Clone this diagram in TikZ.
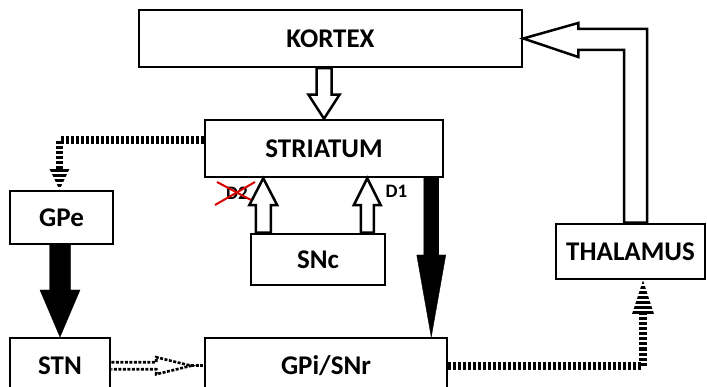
\documentclass[tikz,border=0pt]{standalone}
\usepackage{fontspec}
\setmainfont{Carlito}
\usetikzlibrary{calc}

% vertical block arrow: [style]{from}{to}{shaft half}{head half}{head length}
\newcommand\vblock[6][]{%
  \draw[#1] let \p1=(#2), \p2=(#3), \n1={sign(\y2-\y1)*#6} in
    (\x2-#4pt,\y1) -- (\x2-#4pt,\y2-\n1) -- (\x2-#5pt,\y2-\n1)
    -- (\x2,\y2) -- (\x2+#5pt,\y2-\n1) -- (\x2+#4pt,\y2-\n1)
    -- (\x2+#4pt,\y1) -- cycle;}

\begin{document}
\begin{tikzpicture}[
  x=1pt, y=-1pt,
  box/.style     = {draw, line width=2.5pt, fill=white, inner sep=0pt,
                    font=\fontsize{27}{32}\selectfont\bfseries},
  lbl/.style     = {inner sep=0pt, font=\fontsize{19}{22}\selectfont\bfseries},
  hollow/.style  = {draw, line width=2.5pt, fill=white, line join=miter},
  solidar/.style = {fill=black},
  dotline/.style = {line width=7.5pt, dash pattern=on 3pt off 2pt},
  dashout/.style = {line width=2.6pt, dash pattern=on 3pt off 1.5pt},
  cross/.style   = {draw=red!85!black, line width=2pt},
]
\useasboundingbox (0,0) rectangle (707,387);
\clip (0,0) rectangle (707,387);

% ----------------------------- boxes --------------------------------------
\node[box, minimum width=383, minimum height=57] (kortex) at (330.5,38.5) {KORTEX};
\node[box, minimum width=238, minimum height=57] (striatum) at (324,148.5) {STRIATUM};
\node[box, minimum width=134, minimum height=51] (snc) at (318,259.5) {SNc};
\node[box, minimum width=103, minimum height=53] (gpe) at (61.5,217.5) {GPe};
\node[box, minimum width=100, minimum height=55, anchor=north] (stn) at (60,337) {STN};
\node[box, minimum width=242, minimum height=55, anchor=north] (gpi) at (326,337) {GPi/SNr};
\node[box, minimum width=149, minimum height=55] (thalamus) at (630.5,251.5) {THALAMUS};

% ----------------------------- hollow arrows ------------------------------
\vblock[hollow]{kortex.south -| striatum.north}{striatum.north}{7.5}{15.5}{24}
\vblock[hollow]{$(snc.north west)+(13.5,0)$}{$(striatum.south west)+(59.5,0)$}{7.5}{14}{27}
\vblock[hollow]{$(snc.north east)+(-16.5,0)$}{$(striatum.south west)+(163.5,0)$}{6.5}{13.5}{27}
\draw[hollow] ($(thalamus.north)+(16.5,0)$) |- ($(kortex.east)+(55,-9.5)$)
  -- ++(0,-6) -- (kortex.east) -- ++(55,18.5) -- ++(0,-7)
  -| ($(thalamus.north)+(-6.5,0)$) -- cycle;

% ----------------------------- solid arrows -------------------------------
\vblock[solidar]{gpe.south}{stn.north}{10.5}{20}{47}
\vblock[solidar]{$(striatum.south east)+(-13,0)$}{$(gpi.north east)+(-17,0)$}{7.5}{14.5}{82}

% ----------------------------- dotted arrows ------------------------------
\coordinate (gpetip) at ($(gpe.north)+(-2,0)$);
\coordinate (gpebase) at ($(gpe.north)+(-2,-21)$);
\draw[dotline] ($(striatum.west)+(0,-8.5)$) -| (gpebase);
\begin{scope}
  \clip ($(gpebase)+(-10,0)$) -- ($(gpebase)+(10,0)$) -- (gpetip) -- cycle;
  \draw[dotline, line width=22pt] (gpebase) -- (gpetip);
\end{scope}

\coordinate (thtip) at ($(thalamus.south)+(12.5,0)$);
\coordinate (thbase) at ($(thalamus.south)+(12.5,34)$);
\draw[dotline, line width=8pt] (gpi.east) -| (thbase);
\begin{scope}
  \clip ($(thbase)+(-11,0)$) -- ($(thbase)+(11,0)$) -- (thtip) -- cycle;
  \draw[dotline, line width=24pt] (thbase) -- (thtip);
\end{scope}

\draw[dashout] ($(stn.east)+(0,-3.5)$) -- ++(45,0) -- ++(0,-5)
  -- ($(stn.east)+(80,0)$) -- ($(stn.east)+(45,8.5)$) -- ++(0,-5)
  -- ($(stn.east)+(0,3.5)$);
\draw[dashout, line width=3pt] ($(stn.east)+(80,0)$) -- (gpi.west);

% ----------------------------- receptor labels ----------------------------
\node[lbl] (d2) at (237,193) {D2};
\node[lbl] (d1) at (396.5,191) {D1};
\draw[cross] ($(d2)+(-22,12)$) -- ($(d2)+(18,-11)$);
\draw[cross] ($(d2)+(-20,-11)$) -- ($(d2)+(14,7)$);

\end{tikzpicture}
\end{document}
